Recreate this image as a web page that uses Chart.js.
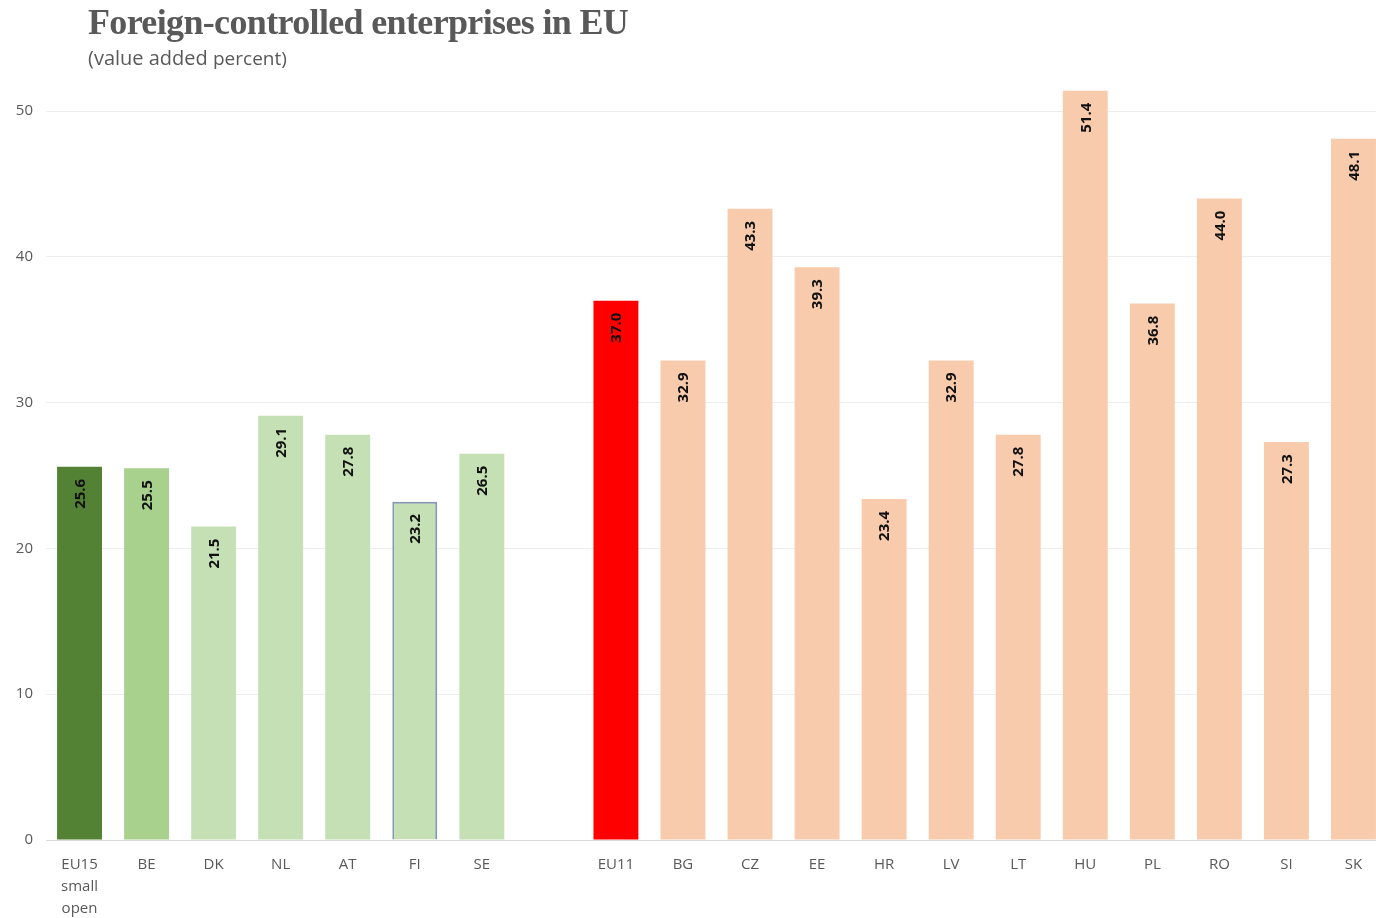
<!DOCTYPE html>
<html lang="en">
<head>
    <meta charset="UTF-8">
    <title>Foreign-controlled enterprises in EU</title>
    <script src="https://cdn.jsdelivr.net/npm/chart.js"></script>
    <style>
        body {
            margin: 0;
            padding: 0;
            background-color: #fff;
            overflow: hidden;
        }

        .wrap {
            position: relative;
            width: 1376px;
            height: 918px;
            overflow: hidden;
        }

        h1 {
            position: absolute;
            left: 88px;
            top: 1px;
            margin: 0;
            font-family: "Liberation Serif", serif;
            font-weight: bold;
            font-size: 36px;
            letter-spacing: -0.65px;
            color: #595959;
            white-space: nowrap;
        }

        .sub {
            position: absolute;
            left: 88px;
            top: 44px;
            font-family: "Open Sans", sans-serif;
            font-size: 20px;
            color: #595959;
            white-space: nowrap;
        }

        .sub small {
            font-size: 19px;
        }

        .chart-container {
            position: absolute;
            left: 0;
            top: 0;
            width: 1390px;
            height: 918px;
        }
    </style>
</head>
<body>
    <div class="wrap">
        <div class="chart-container">
            <canvas id="fdiChart"></canvas>
        </div>
        <h1>Foreign-controlled enterprises in EU</h1>
        <div class="sub">(value added <small>percent)</small></div>
    </div>

    <script>
        // chart data
        const categories = [['EU15', 'small', 'open'], 'BE', 'DK', 'NL', 'AT', 'FI', 'SE', '',
            'EU11', 'BG', 'CZ', 'EE', 'HR', 'LV', 'LT', 'HU', 'PL', 'RO', 'SI', 'SK'];
        const valueAdded = [25.6, 25.5, 21.5, 29.1, 27.8, 23.2, 26.5, null,
            37.0, 32.9, 43.3, 39.3, 23.4, 32.9, 27.8, 51.4, 36.8, 44.0, 27.3, 48.1];
        const yTicks = [0, 10, 20, 30, 40, 50];

        const barColors = ['#548235', '#a9d18e', '#c5e0b4', '#c5e0b4', '#c5e0b4', '#c5e0b4', '#c5e0b4', '#fff',
            '#ff0000', '#f8cbad', '#f8cbad', '#f8cbad', '#f8cbad', '#f8cbad', '#f8cbad', '#f8cbad',
            '#f8cbad', '#f8cbad', '#f8cbad', '#f8cbad'];
        const borderColors = barColors.map((c, i) => categories[i] === 'FI' ? '#8497b0' : c);
        const borderWidths = categories.map(c => c === 'FI' ? 2 : 0);

        // draws the rotated value labels inside the top of each bar
        const barLabels = {
            id: 'barLabels',
            afterDatasetsDraw(chart) {
                const ctx = chart.ctx;
                const meta = chart.getDatasetMeta(0);
                ctx.save();
                ctx.font = 'bold 15px "Open Sans", sans-serif';
                ctx.fillStyle = '#111';
                ctx.textAlign = 'right';
                ctx.textBaseline = 'middle';
                meta.data.forEach((bar, i) => {
                    const v = valueAdded[i];
                    if (v === null) return;
                    ctx.save();
                    ctx.translate(bar.x, bar.y);
                    ctx.rotate(-Math.PI / 2);
                    ctx.fillText(v.toFixed(1), -12, 1);
                    ctx.restore();
                });
                ctx.restore();
            }
        };

        const ctx = document.getElementById('fdiChart').getContext('2d');
        const fdiChart = new Chart(ctx, {
            type: 'bar',
            data: {
                labels: categories,
                datasets: [{
                    data: valueAdded,
                    backgroundColor: barColors,
                    borderColor: borderColors,
                    borderWidth: borderWidths,
                    categoryPercentage: 1,
                    barPercentage: 0.67
                }]
            },
            options: {
                responsive: true,
                maintainAspectRatio: false,
                animation: false,
                layout: {
                    padding: { top: 82, right: 3, left: 1, bottom: 0 }
                },
                plugins: {
                    legend: { display: false },
                    tooltip: { enabled: false }
                },
                scales: {
                    x: {
                        grid: { display: false, drawTicks: false },
                        border: { color: '#d9d9d9', width: 1 },
                        ticks: {
                            color: '#595959',
                            font: { family: '"Open Sans", sans-serif', size: 15, lineHeight: 1.45 },
                            padding: 14,
                            maxRotation: 0,
                            autoSkip: false
                        },
                        afterFit(scale) { scale.height = 78; }
                    },
                    y: {
                        min: 0,
                        max: 52,
                        grid: { color: '#ededed', drawTicks: false },
                        border: { display: false },
                        ticks: {
                            color: '#595959',
                            font: { family: '"Open Sans", sans-serif', size: 15 },
                            padding: 13
                        },
                        afterBuildTicks(scale) {
                            scale.ticks = yTicks.map(v => ({ value: v }));
                        },
                        afterFit(scale) { scale.width = 45; }
                    }
                }
            },
            plugins: [barLabels]
        });
    </script>
</body>
</html>
